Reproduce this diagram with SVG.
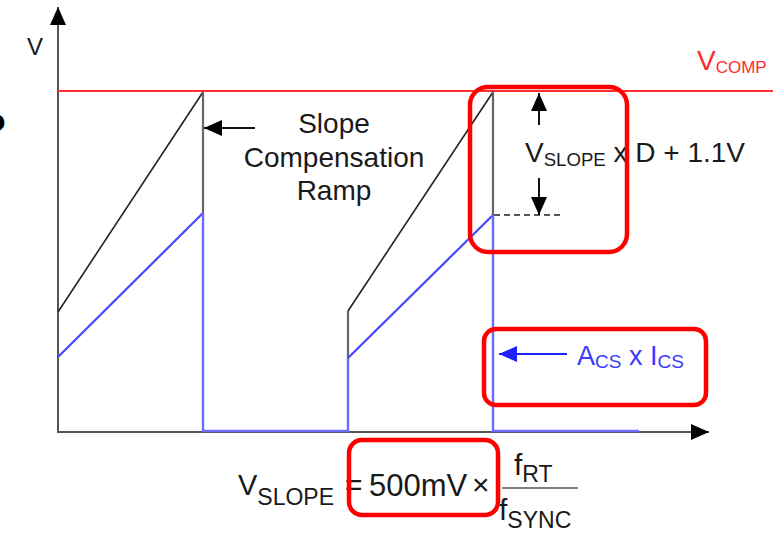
<svg xmlns="http://www.w3.org/2000/svg" width="773" height="533" viewBox="0 0 773 533">
<style>
  text { font-family: "Liberation Sans", Arial, sans-serif; fill: #1a1a1a; }
  .axis { stroke: #555; stroke-width: 2; fill: none; }
  .ramp { stroke: #222; stroke-width: 1.6; fill: none; }
  .gv { stroke: #666; stroke-width: 2.2; fill: none; }
  .cs { stroke: #4747ff; stroke-width: 2.2; fill: none; }
  .csv { stroke: #6b6bff; stroke-width: 2.4; fill: none; }
  .hl { stroke: #ff0000; stroke-width: 4.5; fill: none; }
  .arr { stroke: #111; stroke-width: 2; fill: none; }
  .red { fill: #ff2a2a; }
  .blue { fill: #3a3aff; }
</style>
<defs>
  <marker id="ah" viewBox="0 0 18 16" refX="18" refY="8" markerWidth="18" markerHeight="16" markerUnits="userSpaceOnUse" orient="auto">
    <path d="M0,0 L18,8 L0,16 z" fill="#000"/>
  </marker>
  <marker id="ahb" viewBox="0 0 18 16" refX="18" refY="8" markerWidth="18" markerHeight="16" markerUnits="userSpaceOnUse" orient="auto">
    <path d="M0,0 L18,8 L0,16 z" fill="#2020ff"/>
  </marker>
</defs>

<text x="7" y="147" font-size="48" font-weight="bold" text-anchor="end" style="fill:#000">?</text>

<g id="axes">
  <line class="axis" x1="58" y1="433" x2="58" y2="7" marker-end="url(#ah)"/>
  <line class="axis" x1="57" y1="432" x2="709" y2="432" marker-end="url(#ah)"/>
  <text x="27" y="55" font-size="24">V</text>
</g>

<g id="vcomp">
  <line x1="58" y1="91" x2="773" y2="91" stroke="#ff3030" stroke-width="2"/>
  <text x="697" y="70" font-size="28" class="red">V<tspan font-size="17" dy="3">COMP</tspan></text>
</g>

<g id="waveforms">
  <path class="ramp" d="M58,312 L203,92"/>
  <path class="gv" d="M203,92 L203,213"/>
  <path class="cs" d="M58,357 L203,213"/>
  <path class="csv" d="M203,213 L203,431 L348,431 L348,358"/>
  <path class="gv" d="M348,358 L348,311"/>
  <path class="ramp" d="M348,311 L493,92"/>
  <path class="gv" d="M493,92 L493,215"/>
  <path class="cs" d="M348,358 L493,215"/>
  <path class="csv" d="M493,215 L493,431 L639,431"/>
  <line x1="494" y1="215" x2="562" y2="215" stroke="#222" stroke-width="1.5" stroke-dasharray="6,4"/>
</g>

<g id="connectors">
  <line class="arr" x1="255" y1="128" x2="204" y2="128" marker-end="url(#ah)"/>
  <line class="arr" x1="539" y1="125" x2="539" y2="93" marker-end="url(#ah)"/>
  <line class="arr" x1="539" y1="178" x2="539" y2="215" marker-end="url(#ah)"/>
  <line x1="567" y1="354" x2="499" y2="354" stroke="#2020ff" stroke-width="2" marker-end="url(#ahb)"/>
</g>

<g id="slope-label">
  <text x="334" y="133" font-size="28" text-anchor="middle">Slope</text>
  <text x="334" y="167" font-size="28" text-anchor="middle">Compensation</text>
  <text x="334" y="200" font-size="28" text-anchor="middle">Ramp</text>
</g>

<g id="vslope-label">
  <text x="525" y="162" font-size="28">V<tspan font-size="18.6" dy="4">SLOPE</tspan><tspan dy="-4"> x D + 1.1V</tspan></text>
</g>

<g id="acs-label">
  <text x="577" y="365" font-size="27" class="blue">A<tspan font-size="19" dy="3">CS</tspan><tspan dy="-3"> x I</tspan><tspan font-size="19" dy="3">CS</tspan></text>
</g>

<g id="formula">
  <text x="238" y="495" font-size="29">V<tspan font-size="23" dy="10">SLOPE</tspan></text>
  <text x="345" y="495" font-size="30">=</text>
  <text x="369" y="496" font-size="31">500mV</text>
  <text x="472" y="495" font-size="30">×</text>
  <text x="514" y="475" font-size="30">f<tspan font-size="23" dy="7">RT</tspan></text>
  <line x1="502" y1="488" x2="578" y2="488" stroke="#555" stroke-width="1.5"/>
  <text x="499" y="520" font-size="30">f<tspan font-size="23" dy="8">SYNC</tspan></text>
</g>

<g id="highlights">
  <rect class="hl" x="470" y="87" width="157" height="165" rx="18"/>
  <rect class="hl" x="484" y="329" width="222" height="76" rx="12"/>
  <rect class="hl" x="349" y="440" width="149" height="75" rx="13"/>
</g>
</svg>
